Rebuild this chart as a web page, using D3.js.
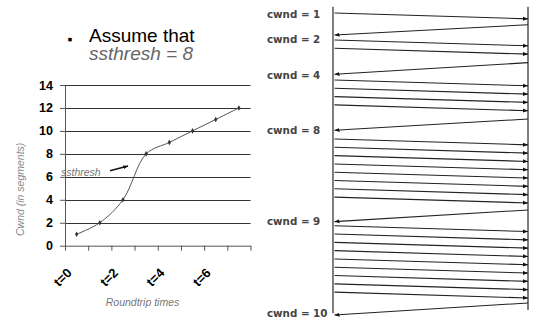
<!DOCTYPE html>
<html>
<head>
<meta charset="utf-8">
<script src="https://cdn.jsdelivr.net/npm/d3@7"></script>
<style>
  body { margin: 0; background: #fff; }
  svg { display: block; font-family: "Liberation Sans", Arial, sans-serif; }
</style>
</head>
<body>
<div id="chart"></div>
<script>
// left chart: cwnd per roundtrip
const rounds = ["t=0", "t=1", "t=2", "t=3", "t=4", "t=5", "t=6", "t=7"];
const cwnd = [1, 2, 4, 8, 9, 10, 11, 12];
const yTicks = [0, 2, 4, 6, 8, 10, 12, 14];

// right diagram: segments sent per round and timing (in segment-times)
const windowSizes = [1, 2, 4, 8, 9];
const roundStart = [1.57, 4.82, 9.64, 16.75, 27.2];
const ackSent = [2.98, 7.55, 14.34, 25.3, 36.5];
const ackArrive = [4.22, 8.95, 15.7, 26.7, 37.95];
const cwndLabels = ["cwnd = 1", "cwnd = 2", "cwnd = 4", "cwnd = 8", "cwnd = 9", "cwnd = 10"];
const labelTime = [1.75, 4.7, 9.04, 15.66, 26.7, 37.8];
const transit = 0.7;

const width = 555, height = 320;

const svg = d3.select("#chart")
  .append("svg")
  .attr("width", width)
  .attr("height", height);

svg.append("defs").selectAll("marker")
  .data(["head"])
  .join("marker")
  .attr("id", d => d)
  .attr("viewBox", "0 -5 10 10")
  .attr("refX", 10)
  .attr("refY", 0)
  .attr("markerWidth", 5)
  .attr("markerHeight", 5)
  .attr("markerUnits", "userSpaceOnUse")
  .attr("orient", "auto")
  .append("path")
  .attr("d", "M0,-4L10,0L0,4Z")
  .attr("fill", "#111");

// ---------- heading ----------
svg.append("text")
  .attr("x", 70).attr("y", 44)
  .attr("text-anchor", "middle")
  .attr("font-size", 14)
  .text("\u25AA");

svg.append("text")
  .attr("x", 89).attr("y", 41.5)
  .attr("font-size", 19)
  .attr("fill", "#000")
  .text("Assume that");

svg.append("text")
  .attr("x", 89).attr("y", 60)
  .attr("font-size", 19)
  .attr("font-style", "italic")
  .attr("fill", "#666")
  .text("ssthresh = 8");

// ---------- left chart ----------
const x = d3.scaleBand().domain(rounds).range([65, 250.5]);
const xl = d3.scaleLinear().domain([0, rounds.length]).range(x.range());
const y = d3.scaleLinear().domain([0, 14]).range([245.7, 85]);

svg.append("g")
  .attr("stroke", "#333")
  .attr("stroke-width", 1)
  .selectAll("line")
  .data(yTicks.slice(1))
  .join("line")
  .attr("x1", x.range()[0]).attr("x2", x.range()[1])
  .attr("y1", d => Math.round(y(d)) + 0.5)
  .attr("y2", d => Math.round(y(d)) + 0.5);

const yAxis = svg.append("g")
  .attr("transform", `translate(${x.range()[0]},0)`)
  .call(d3.axisLeft(y).tickValues(yTicks).tickSize(5).tickPadding(7).tickSizeOuter(0));
yAxis.select(".domain").attr("stroke", "#555");
yAxis.selectAll(".tick line").attr("stroke", "#555");
yAxis.selectAll("text")
  .attr("font-family", "Liberation Sans, Arial, sans-serif")
  .attr("font-size", 12.5)
  .attr("font-weight", "bold")
  .attr("fill", "#000");

const xAxis = svg.append("g")
  .attr("transform", `translate(0,${y(0)})`)
  .call(d3.axisBottom(xl).tickValues(d3.range(rounds.length + 1)).tickSize(5).tickFormat("").tickSizeOuter(0));
xAxis.select(".domain").attr("stroke", "#555");
xAxis.selectAll(".tick line").attr("stroke", "#555");

svg.append("g")
  .attr("font-size", 13)
  .attr("font-weight", "bold")
  .attr("text-anchor", "end")
  .selectAll("text")
  .data(rounds.filter((d, i) => i % 2 === 0))
  .join("text")
  .attr("transform", d => `translate(${x(d) + x.bandwidth() / 2 - 4},${y(0) + 28}) rotate(-45)`)
  .text(d => d);

svg.append("text")
  .attr("x", 142.5)
  .attr("y", 306)
  .attr("text-anchor", "middle")
  .attr("font-size", 10.5)
  .attr("font-style", "italic")
  .attr("fill", "#777")
  .text("Roundtrip times");

svg.append("text")
  .attr("transform", `translate(24,${(y(0) + y(14)) / 2 + 24}) rotate(-90)`)
  .attr("text-anchor", "middle")
  .attr("font-size", 10.5)
  .attr("font-style", "italic")
  .attr("fill", "#888")
  .text("Cwnd (in segments)");

const line = d3.line()
  .x((d, i) => x(rounds[i]) + x.bandwidth() / 2)
  .y(d => y(d))
  .curve(d3.curveCatmullRom.alpha(0.5));

svg.append("path")
  .datum(cwnd)
  .attr("fill", "none")
  .attr("stroke", "#555")
  .attr("stroke-width", 1)
  .attr("d", line);

svg.append("g")
  .attr("fill", "#333")
  .selectAll("path")
  .data(cwnd)
  .join("path")
  .attr("transform", (d, i) => `translate(${x(rounds[i]) + x.bandwidth() / 2},${y(d)})`)
  .attr("d", d3.symbol(d3.symbolDiamond, 9));

// ssthresh annotation
svg.append("text")
  .attr("x", x.range()[0] - 4)
  .attr("y", y(6) - 1)
  .attr("font-size", 10.5)
  .attr("font-style", "italic")
  .attr("fill", "#777")
  .text("ssthresh");

svg.append("line")
  .attr("x1", xl(1.94)).attr("y1", y(6.53))
  .attr("x2", xl(2.72)).attr("y2", y(6.94))
  .attr("stroke", "#111")
  .attr("stroke-width", 1.5)
  .attr("marker-end", "url(#head)");

// ---------- right diagram ----------
const hosts = d3.scalePoint().domain(["sender", "receiver"]).range([333, 528]);
const t = d3.scaleLinear().domain([0, 38]).range([0, 315.4]);

svg.append("g")
  .attr("stroke", "#555")
  .attr("stroke-width", 1.5)
  .selectAll("line")
  .data([["sender", 37.75], ["receiver", 37.35]])
  .join("line")
  .attr("x1", d => hosts(d[0])).attr("x2", d => hosts(d[0]))
  .attr("y1", t(0.8)).attr("y2", d => t(d[1]));

const segments = windowSizes.flatMap((n, k) =>
  d3.range(n).map(i => ({ start: roundStart[k] + i, end: roundStart[k] + i + transit })));

svg.append("g")
  .attr("stroke", "#222")
  .attr("stroke-width", 1.1)
  .selectAll("line")
  .data(segments)
  .join("line")
  .attr("x1", hosts("sender") + 1.5).attr("y1", d => t(d.start))
  .attr("x2", hosts("receiver")).attr("y2", d => t(d.end))
  .attr("marker-end", "url(#head)");

svg.append("g")
  .attr("stroke", "#222")
  .attr("stroke-width", 1.1)
  .selectAll("line")
  .data(ackSent)
  .join("line")
  .attr("x1", hosts("receiver")).attr("y1", d => t(d))
  .attr("x2", hosts("sender") + 1.5).attr("y2", (d, i) => t(ackArrive[i]))
  .attr("marker-end", "url(#head)");

svg.append("g")
  .attr("font-family", "DejaVu Sans, sans-serif")
  .attr("font-size", 10.3)
  .attr("font-weight", "bold")
  .attr("fill", "#444")
  .selectAll("text")
  .data(cwndLabels)
  .join("text")
  .attr("x", 267)
  .attr("y", (d, i) => t(labelTime[i]))
  .attr("dy", "0.35em")
  .text(d => d);
</script>
</body>
</html>
